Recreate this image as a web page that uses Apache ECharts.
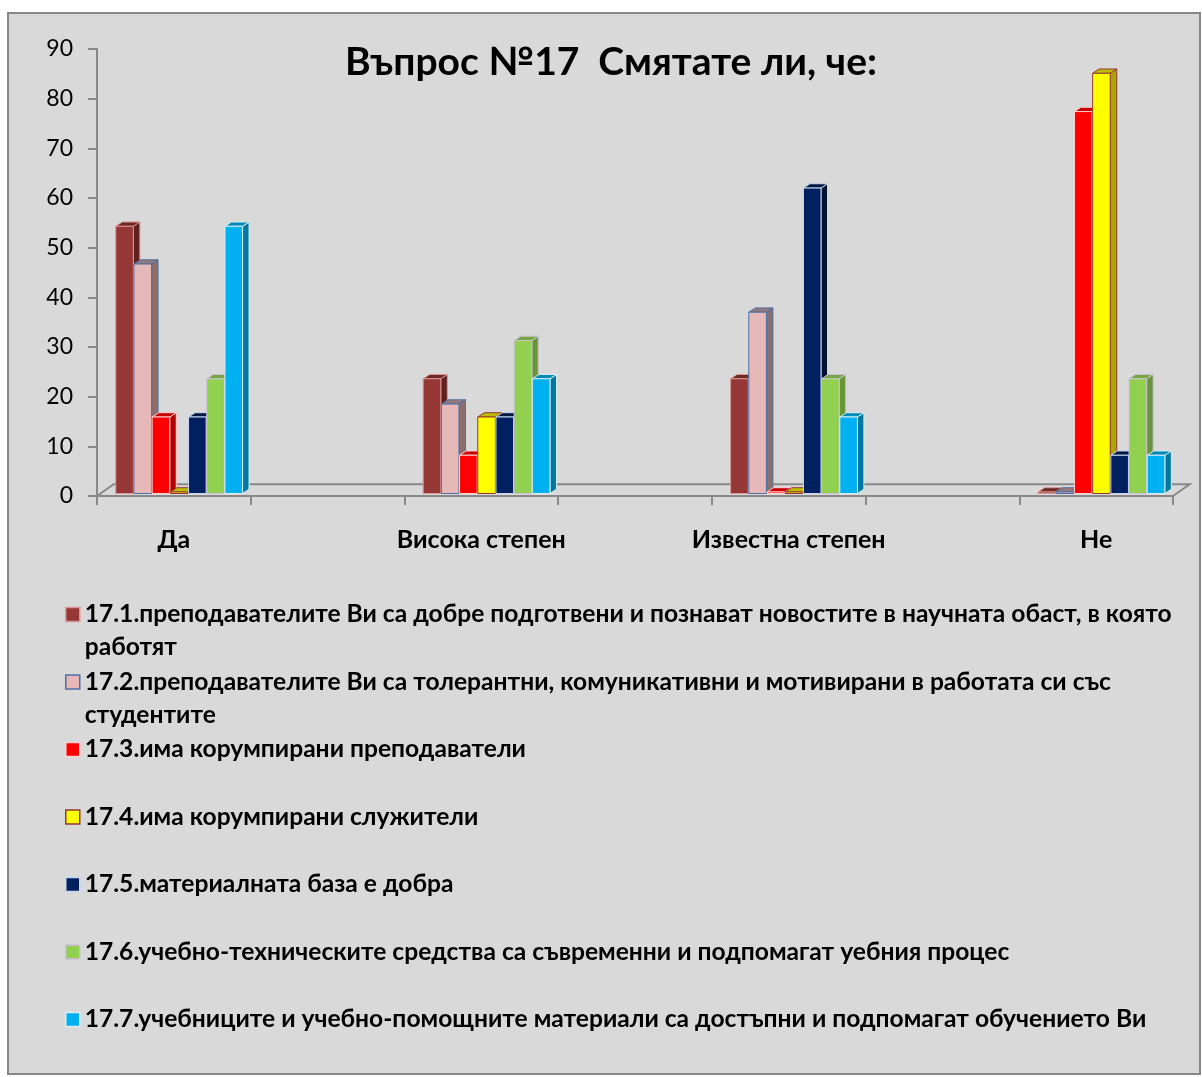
<!DOCTYPE html>
<html>
<head>
<meta charset="utf-8">
<title>Въпрос №17</title>
<script src="https://cdn.jsdelivr.net/npm/echarts@6/dist/echarts.min.js"></script>
<style>
  html, body { margin: 0; padding: 0; background: #ffffff; }
  #chart { width: 1202px; height: 1077px; }
</style>
</head>
<body>
<div id="chart"></div>
<script>
// Answer groups; blank slots keep the empty spacing between the groups
const categories = ['Да', '', 'Висока степен', '', 'Известна степен', '', 'Не'];
const dataSlots = [0, 2, 4, 6];

// Per-question shares (%) for Да / Висока степен / Известна степен / Не
const q171 = [53.8, 23.1, 23.1, 0];
const q172 = [46.2, 18.0, 36.5, 0];
const q173 = [15.4, 7.7, 0, 76.9];
const q174 = [0, 15.4, 0, 84.6];
const q175 = [15.4, 15.4, 61.5, 7.7];
const q176 = [23.1, 30.8, 23.1, 23.1];
const q177 = [53.8, 23.1, 15.4, 7.7];

const seriesNames = [
  '17.1.преподавателите Ви са добре подготвени и познават новостите в научната обаст, в която работят',
  '17.2.преподавателите Ви са толерантни, комуникативни и мотивирани в работата си със студентите',
  '17.3.има корумпирани преподаватели',
  '17.4.има корумпирани служители',
  '17.5.материалната база е добра',
  '17.6.учебно-техническите средства са съвременни и подпомагат уебния процес',
  '17.7.учебниците и учебно-помощните материали са достъпни и подпомагат обучението Ви'
];
const seriesValues = [q171, q172, q173, q174, q175, q176, q177];

const yTicks = { min: 0, max: 90, step: 10 };

// Face colours of the 3D columns: front, side, top, outline
const palette = [
  { front: '#953735', side: '#5f2120', top: '#6e2826', stroke: '#d99694' },
  { front: '#e6b9b8', side: '#8c6e6d', top: '#957877', stroke: '#4a72a8' },
  { front: '#ff0000', side: '#b00000', top: '#c80000', stroke: '#ffd0d0' },
  { front: '#ffff00', side: '#a8a800', top: '#bcbc00', stroke: '#953735' },
  { front: '#002060', side: '#00112f', top: '#00173f', stroke: '#c6d9f1' },
  { front: '#92d050', side: '#6a963a', top: '#77a840', stroke: '#ccc0da' },
  { front: '#00b0f0', side: '#0078a0', top: '#008ab8', stroke: '#daeef3' }
];

const FONT = 'Lato, "Open Sans", "Noto Sans", sans-serif';
const AXIS_GREY = '#888888';

// Column geometry relative to the category band
const BAR_PITCH = 0.1184;    // share of the band per column
const GROUP_OFFSET = 0.378;  // first column starts this far left of the band centre
const DEPTH_X = 6.5;
const DEPTH_Y = 4.3;
const LIFT = 2.5;            // columns stand slightly behind the front floor edge

function columnRenderer(seriesIndex) {
  const c = palette[seriesIndex];
  return function (params, api) {
    const cat = api.value(0);
    const val = api.value(1);
    const base = api.coord([cat, 0]);
    const topPt = api.coord([cat, val]);
    const band = api.size([1, 0])[0];
    const pitch = band * BAR_PITCH;
    const w = pitch - 0.6;
    const x0 = base[0] - band * GROUP_OFFSET + seriesIndex * pitch;
    const yb = base[1] - LIFT;
    const yt = Math.min(topPt[1] - LIFT, yb - 1.5);
    const line = { stroke: c.stroke, lineWidth: 1, lineJoin: 'round' };
    return {
      type: 'group',
      children: [
        {
          type: 'polygon',
          shape: { points: [[x0 + w, yt], [x0 + w + DEPTH_X, yt - DEPTH_Y], [x0 + w + DEPTH_X, yb - DEPTH_Y], [x0 + w, yb]] },
          style: Object.assign({ fill: c.side }, line)
        },
        {
          type: 'polygon',
          shape: { points: [[x0, yt], [x0 + DEPTH_X, yt - DEPTH_Y], [x0 + w + DEPTH_X, yt - DEPTH_Y], [x0 + w, yt]] },
          style: Object.assign({ fill: c.top }, line)
        },
        {
          type: 'rect',
          shape: { x: x0, y: yt, width: w, height: yb - yt },
          style: Object.assign({ fill: c.front }, line)
        }
      ]
    };
  };
}

// Back edge and side edges of the floor plane
function floorRenderer(params, api) {
  const cs = params.coordSys;
  const fx = 16.6, fy = 11.7;
  const yb = cs.y + cs.height;
  const style = { stroke: AXIS_GREY, lineWidth: 2, fill: null };
  return {
    type: 'group',
    silent: true,
    children: [
      { type: 'polyline', shape: { points: [[cs.x, yb], [cs.x + fx, yb - fy], [cs.x + cs.width + fx, yb - fy], [cs.x + cs.width, yb]] }, style: style }
    ]
  };
}

const series = [{
  type: 'custom',
  name: 'floor',
  renderItem: floorRenderer,
  data: [[0, 0]],
  z: 1,
  silent: true,
  tooltip: { show: false }
}];

seriesValues.forEach(function (vals, i) {
  series.push({
    type: 'custom',
    name: seriesNames[i],
    renderItem: columnRenderer(i),
    itemStyle: { color: palette[i].front, borderColor: palette[i].stroke },
    encode: { x: 0, y: 1 },
    data: vals.map(function (v, k) { return [dataSlots[k], v]; }),
    z: 3
  });
});

// Legend text wrapping by measured width
const LEGEND_FONT_SIZE = 24.6;
const LEGEND_MAX_WIDTH = 1100;
const measureCtx = document.createElement('canvas').getContext('2d');
function wrapText(text) {
  measureCtx.font = 'bold ' + LEGEND_FONT_SIZE + 'px ' + FONT;
  const words = text.split(' ');
  const lines = [];
  let cur = '';
  words.forEach(function (wd) {
    const next = cur ? cur + ' ' + wd : wd;
    if (cur && measureCtx.measureText(next).width > LEGEND_MAX_WIDTH) {
      lines.push(cur);
      cur = wd;
    } else {
      cur = next;
    }
  });
  if (cur) lines.push(cur);
  return lines;
}

// One legend block per entry so the rows keep an even pitch
const legendCentres = [614.5, 682, 749.5, 817, 884.5, 952, 1019.5];
const LEGEND_LINE = 33;
const legends = seriesNames.map(function (name, i) {
  const lines = wrapText(name);
  // a leading blank line keeps the marker level with the first text line
  const padded = lines.length > 1 ? [''].concat(lines) : lines;
  return {
    data: [name],
    orient: 'vertical',
    left: 65,
    top: legendCentres[i] - (padded.length / 2) * LEGEND_LINE,
    padding: 0,
    icon: 'rect',
    itemWidth: 14,
    itemHeight: 14,
    selectedMode: false,
    itemStyle: { borderColor: palette[i].stroke, borderWidth: 1.5 },
    formatter: function () { return padded.join('\n'); },
    textStyle: {
      fontFamily: FONT,
      fontWeight: 'bold',
      fontSize: LEGEND_FONT_SIZE,
      color: '#000000',
      lineHeight: LEGEND_LINE
    }
  };
});

const chart = echarts.init(document.getElementById('chart'), null, { renderer: 'canvas' });
chart.setOption({
  backgroundColor: '#ffffff',
  animation: false,
  graphic: [{
    type: 'rect',
    z: -10,
    silent: true,
    shape: { x: 8, y: 13, width: 1192, height: 1061 },
    style: { fill: '#d9d9d9', stroke: '#878787', lineWidth: 2 }
  }],
  title: {
    text: 'Въпрос №17  Смятате ли, че:',
    left: 611,
    top: 62,
    textAlign: 'center',
    textVerticalAlign: 'middle',
    padding: 0,
    textStyle: { fontFamily: FONT, fontWeight: 'bold', fontSize: 39, color: '#000000' }
  },
  legend: legends,
  grid: { left: 97, right: 29, top: 49, bottom: 581, containLabel: false },
  xAxis: {
    type: 'category',
    data: categories,
    axisLine: { show: true, lineStyle: { color: AXIS_GREY, width: 2 } },
    axisTick: { show: true, interval: 0, alignWithLabel: false, length: 9, lineStyle: { color: AXIS_GREY, width: 2 } },
    axisLabel: { interval: 0, margin: 31, fontFamily: FONT, fontWeight: 'bold', fontSize: 25, color: '#000000' },
    splitLine: { show: false }
  },
  yAxis: {
    type: 'value',
    min: yTicks.min,
    max: yTicks.max,
    interval: yTicks.step,
    axisLine: { show: true, lineStyle: { color: AXIS_GREY, width: 2 } },
    axisTick: { show: true, length: 9, lineStyle: { color: AXIS_GREY, width: 2 } },
    axisLabel: { margin: 24, fontFamily: FONT, fontSize: 23, color: '#000000' },
    splitLine: { show: false }
  },
  series: series
});
</script>
</body>
</html>
